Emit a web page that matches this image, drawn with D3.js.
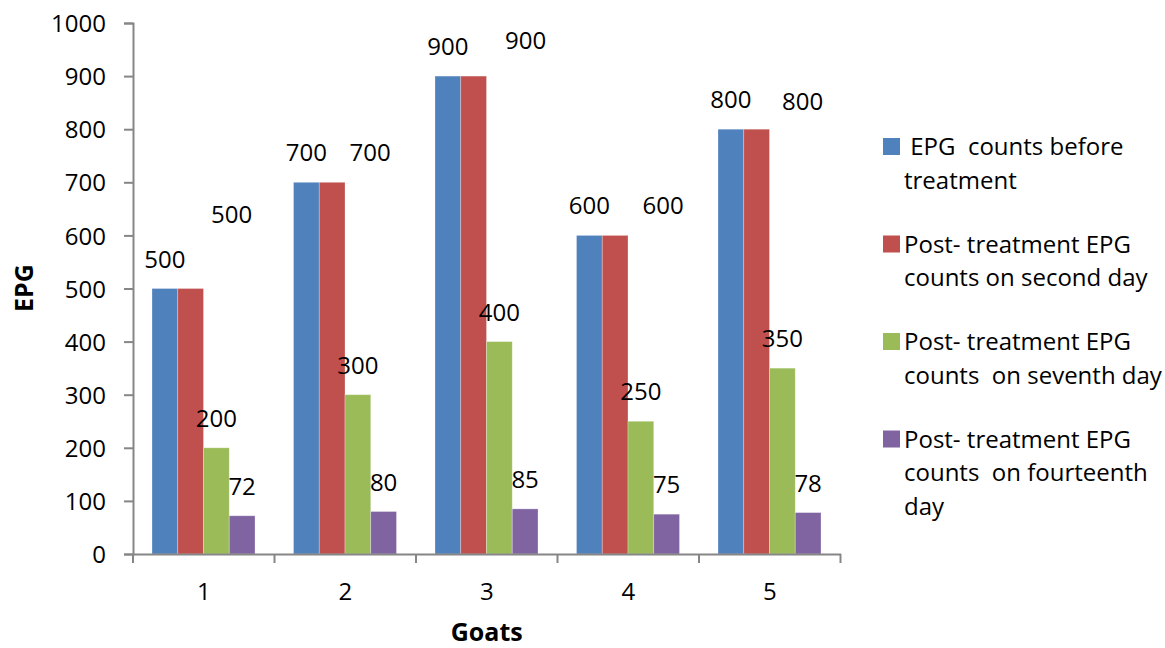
<!DOCTYPE html>
<html>
<head>
<meta charset="utf-8">
<script src="https://cdn.jsdelivr.net/npm/d3@7/dist/d3.min.js"></script>
<style>
  html, body { margin: 0; padding: 0; background: #fff; }
  svg text { font-family: "Open Sans", "Noto Sans", sans-serif; fill: #000; white-space: pre; }
</style>
</head>
<body>
<svg id="chart" width="1165" height="648"></svg>
<script>
// ---- data ----
const goats = ["1", "2", "3", "4", "5"];
const seriesNames = [
  [" EPG  counts before", "treatment"],
  ["Post- treatment EPG", "counts on second day"],
  ["Post- treatment EPG", "counts  on seventh day"],
  ["Post- treatment EPG", "counts  on fourteenth", "day"]
];
const beforeTreatment = [500, 700, 900, 600, 800];
const secondDay = [500, 700, 900, 600, 800];
const seventhDay = [200, 300, 400, 250, 350];
const fourteenthDay = [72, 80, 85, 75, 78];
const yTicks = [0, 100, 200, 300, 400, 500, 600, 700, 800, 900, 1000];
const colors = ["#4F81BD", "#C0504D", "#9BBB59", "#8064A2"];

const seriesValues = [beforeTreatment, secondDay, seventhDay, fourteenthDay];

// label placement nudges (layout only): the second series' labels sit to the right
const labelDx = [[0,0,0,0,0],[41,38,52,48,46],[0,0,0,0,0],[0,0,0,0,0]];
const labelDy = [[0,0,0,0,0],[-45,0,-6,0,2],[0,0,0,0,0],[0,0,0,0,0]];

const svg = d3.select("#chart");
const mLeft = 133, mRight = 840.5, mTop = 23, mBottom = 554;
const axisColor = "#868686";
const fs = "24px";

const x = d3.scaleBand().domain(goats).range([mLeft, mRight]).paddingInner(0).paddingOuter(0);
const sub = d3.scaleBand().domain(d3.range(4)).range([19, x.bandwidth() - 19.5]).padding(0);
const y = d3.scaleLinear().domain([0, 1000]).range([mBottom, mTop]);

// bars
seriesValues.forEach((vals, s) => {
  svg.append("g").selectAll("rect").data(vals).join("rect")
    .attr("x", (d, i) => x(goats[i]) + sub(s))
    .attr("y", d => y(d))
    .attr("width", sub.bandwidth())
    .attr("height", d => y(0) - y(d))
    .attr("fill", colors[s])
    .attr("stroke", "rgba(255,255,255,0.35)")
    .attr("stroke-width", 0.8);
});

// y axis
const yAxis = d3.axisLeft(y).tickValues(yTicks).tickSize(9).tickPadding(18).tickFormat(d3.format("d"));
const gy = svg.append("g").attr("transform", `translate(${mLeft},0)`).call(yAxis);
gy.select(".domain").attr("stroke", axisColor).attr("stroke-width", 2);
gy.selectAll(".tick line").attr("stroke", axisColor).attr("stroke-width", 2);
gy.selectAll(".tick text").style("font-size", fs).attr("dy", "0.36em");

// x axis
const xAxis = d3.axisBottom(x).tickSize(0).tickPadding(29);
const gx = svg.append("g").attr("transform", `translate(0,${mBottom})`).call(xAxis);
gx.select(".domain").attr("stroke", axisColor).attr("stroke-width", 2);
gx.selectAll(".tick text").style("font-size", fs);
// category boundary ticks
const bounds = goats.map(g => x(g)).concat([mRight]);
gx.append("g").selectAll("line").data(bounds).join("line")
  .attr("x1", d => d).attr("x2", d => d).attr("y1", 0).attr("y2", 9)
  .attr("stroke", axisColor).attr("stroke-width", 2);

// data labels
seriesValues.forEach((vals, s) => {
  svg.append("g").selectAll("text").data(vals).join("text")
    .attr("x", (d, i) => x(goats[i]) + sub(s) + sub.bandwidth() / 2 + labelDx[s][i])
    .attr("y", (d, i) => y(d) - 21 + labelDy[s][i])
    .attr("text-anchor", "middle")
    .style("font-size", fs)
    .text(d => d);
});

// axis titles
svg.append("text").attr("x", (mLeft + mRight) / 2).attr("y", 641)
  .attr("text-anchor", "middle").style("font-size", "25px").style("font-weight", "bold").text("Goats");
svg.append("text").attr("transform", "translate(33,288) rotate(-90)")
  .attr("text-anchor", "middle").style("font-size", "25px").style("font-weight", "bold").text("EPG");

// legend
const legend = svg.append("g");
seriesNames.forEach((lines, s) => {
  const y0 = 155 + s * 97.5;
  legend.append("rect").attr("x", 883).attr("y", y0 - 17).attr("width", 17).attr("height", 17).attr("fill", colors[s]);
  lines.forEach((t, k) => {
    legend.append("text").attr("x", 904).attr("y", y0 + k * 33.5)
      .style("font-size", fs).text(t);
  });
});
</script>
</body>
</html>
